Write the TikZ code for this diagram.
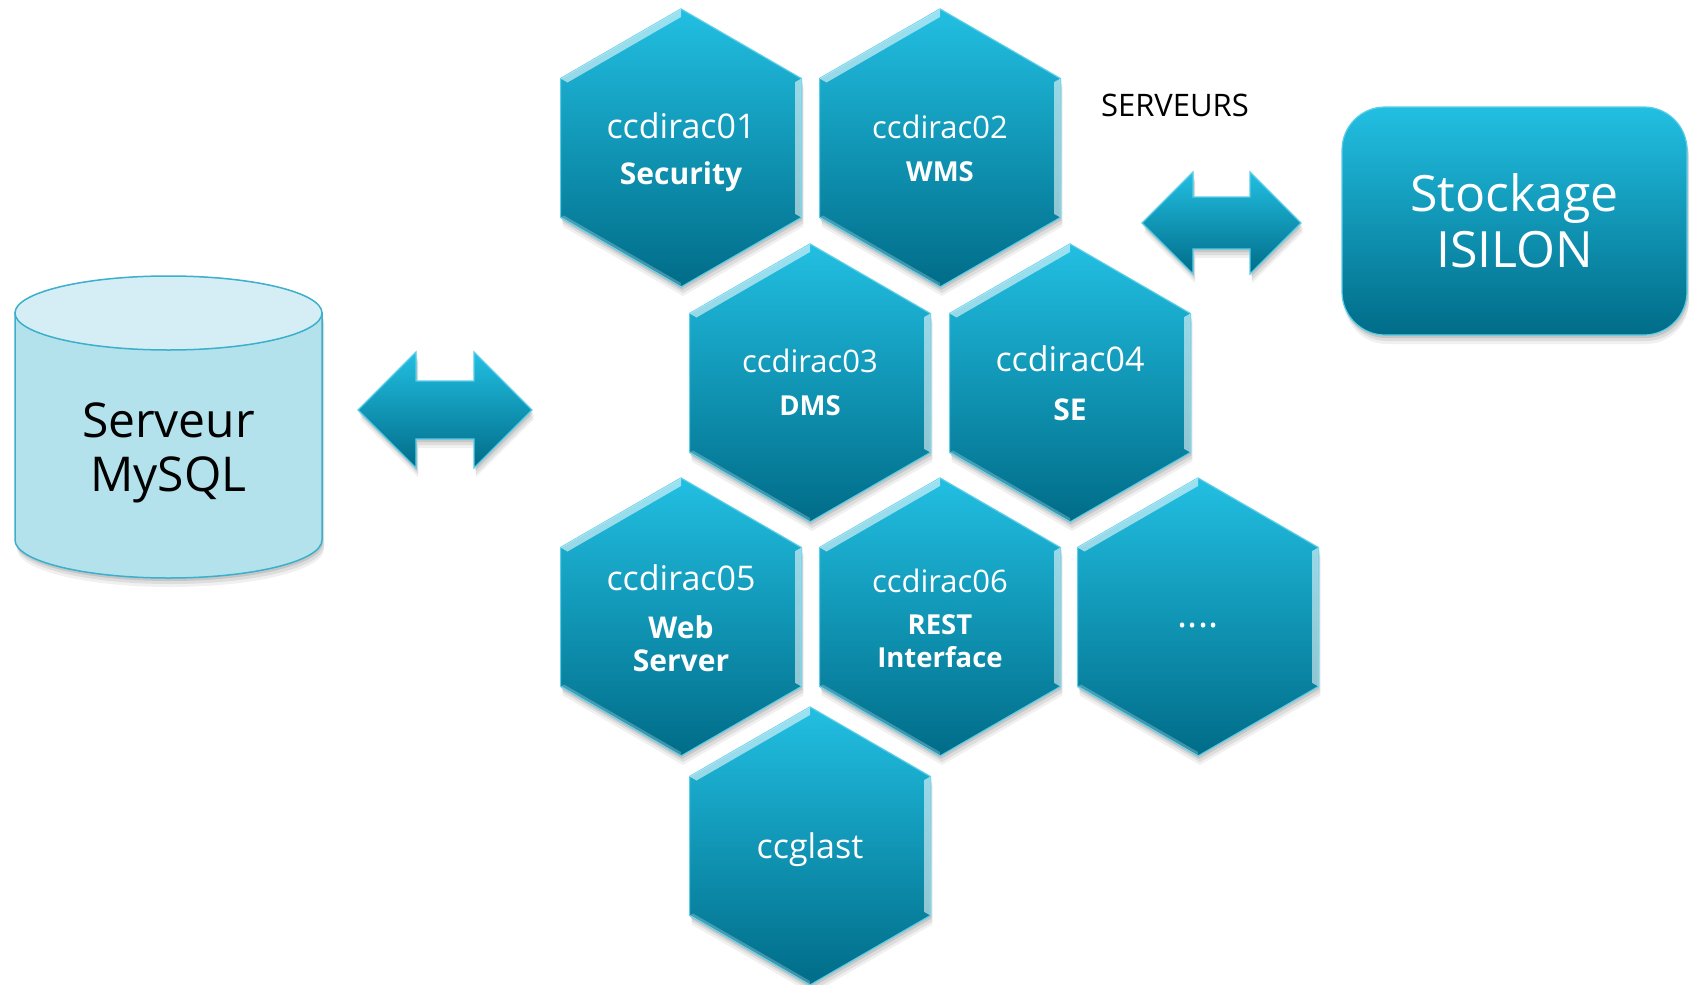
\documentclass[tikz,border=0pt]{standalone}
\usepackage{fontspec}
\setmainfont{Open Sans}
\usetikzlibrary{shadows,calc}
\definecolor{ctop}{HTML}{22BFE2}
\definecolor{cmid}{HTML}{00A5C8}
\definecolor{cbot}{HTML}{006C88}
\definecolor{cedge}{HTML}{5ACDE8}
\definecolor{cyltop}{HTML}{D5EEF5}
\definecolor{cylbody}{HTML}{B3E2EC}
\definecolor{cylline}{HTML}{3BAFCB}
\newcommand\bigb{\fontsize{30}{32}\selectfont\bfseries}
\newcommand\smallb{\fontsize{27.5}{30}\selectfont\bfseries}
\tikzset{
  softshadow/.style={
    drop shadow={opacity=0.10, shadow xshift=1pt, shadow yshift=-3pt, fill=black},
    drop shadow={opacity=0.08, shadow xshift=2pt, shadow yshift=-6pt, fill=black},
    drop shadow={opacity=0.06, shadow xshift=2pt, shadow yshift=-9pt, fill=black}},
  bluefill/.style={top color=ctop, middle color=cmid, bottom color=cbot, draw=cedge, line width=1.2pt, softshadow},
  hextext/.style={text=white, align=center, inner sep=0pt},
  bigfont/.style={font=\fontsize{34}{36}\selectfont},
  smallfont/.style={font=\fontsize{31}{33}\selectfont},
  bevel/.style={fill=white, opacity=0.55},
  stockbox/.style={bluefill, rounded corners=43pt, minimum width=345pt, minimum height=228pt,
    text=white, align=center, font=\fontsize{50}{56}\selectfont},
  cyltext/.style={text=black, align=center, font=\fontsize{48}{54}\selectfont},
}
\newcommand\hexcell[5]{% name, center, text position, style, text
  \begin{scope}[shift={(#2)}]
    \path[bluefill] (0,-139)--(120.4,-69.5)--(120.4,69.5)--(0,139)--(-120.4,69.5)--(-120.4,-69.5)--cycle;
    \fill[bevel] (-120.4,-69.5)--(0,-139)--(0,-131)--(-113.5,-65.5)--cycle;
    \fill[bevel] (120.4,-69.5)--(120.4,69.5)--(114,65.8)--(114,-65.8)--cycle;
    \fill[white, opacity=0.25] (-120.4,69.5)--(0,139)--(0,135)--(-117,67.5)--cycle;
  \end{scope}
  \node[hextext,#4] (#1) at (#3) {#5};
}
\begin{document}
\begin{tikzpicture}[x=1pt,y=-1pt]
\fill[white] (0,0) rectangle (1695,985);
\useasboundingbox (0,0) rectangle (1695,985);

% cylinder
\path[fill=cylbody, draw=cylline, line width=1.5pt, softshadow]
  (15,313) -- (15,540) arc[start angle=180, end angle=360, x radius=153.5pt, y radius=38pt] -- (322,313) -- cycle;
\draw[fill=cyltop, draw=cylline, line width=1.5pt] (168.5,313) ellipse [x radius=153.5pt, y radius=37pt];
\node[cyltext] (mysql) at (168.5,453) {Serveur\\MySQL};

% left double arrow
\path[bluefill] (358,410)--(416,352)--(416,381)--(474,381)--(474,352)--(532,410)--(474,468)--(474,439)--(416,439)--(416,468)--cycle;
% right double arrow
\path[bluefill] (1142,223)--(1193,172)--(1193,197)--(1250,197)--(1250,172)--(1301,223)--(1250,274)--(1250,249)--(1193,249)--(1193,274)--cycle;

% hexagons
\hexcell{h1}{681,148}{681,152}{bigfont}{ccdirac01\\[10pt]\bigb Security}
\hexcell{h2}{940,148}{940,148}{smallfont}{ccdirac02\\[10pt]\smallb WMS}
\hexcell{h3}{810,383}{810,382}{smallfont}{ccdirac03\\[10pt]\smallb DMS}
\hexcell{h4}{1070,383}{1070,383}{bigfont}{ccdirac04\\[12.5pt]\bigb SE}
\hexcell{h5}{681,617}{681,618}{bigfont}{ccdirac05\\[12pt]\bigb Web\\[-2.6pt]\bigb Server}
\hexcell{h6}{940,617}{940,618}{smallfont}{ccdirac06\\[9pt]\smallb REST\\[0pt]\smallb Interface}
\hexcell{h7}{1198,617}{1198,617}{smallfont}{}
\node[text=white, font=\fontsize{38}{40}\selectfont, anchor=base] (dots) at (1198,627) {....};
\hexcell{h8}{810,846}{810,850}{bigfont}{ccglast}

\node[text=black, font=\fontsize{31}{34}\selectfont] (serveurs) at (1175,105) {SERVEURS};

\node[stockbox] (isilon) at (1514.5,221) {Stockage\\ISILON};
\end{tikzpicture}
\end{document}
